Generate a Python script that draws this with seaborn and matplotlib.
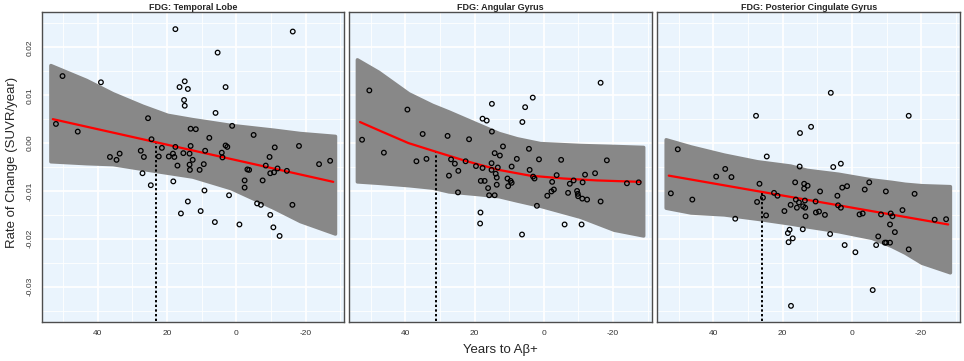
import numpy as np
import pandas as pd
import seaborn as sns
import matplotlib
matplotlib.use('Agg')
import matplotlib.pyplot as plt
from matplotlib.ticker import FixedLocator


# scatter points (years to Ab+, rate of change)
temporal_pts = [(52.1, 0.0040), (50.2, 0.0140), (45.8, 0.0024), (39.1, 0.0127), (36.5, -0.0029), (34.6, -0.0035),
                (33.7, -0.0022), (27.6, -0.0016), (27.1, -0.0063), (26.7, -0.0029), (25.5, 0.0052), (24.5, 0.0008),
                (22.4, -0.0028), (21.5, -0.0010), (19.5, -0.0028), (18.3, -0.0022), (17.9, -0.0029), (17.6, -0.0008),
                (17.6, 0.0238), (17.0, -0.0047), (16.4, 0.0117), (15.3, -0.0021), (15.1, 0.0090), (14.9, 0.0078),
                (14.9, 0.0129), (14.0, 0.0113), (13.5, -0.0022), (13.5, -0.0045), (13.4, -0.0056), (13.2, -0.0006),
                (13.2, 0.0030), (12.6, -0.0035), (11.7, 0.0029), (10.6, -0.0056), (9.4, -0.0044), (9.0, -0.0016),
                (7.8, 0.0011), (6.0, 0.0063), (5.4, 0.0189), (4.2, -0.0020), (4.0, -0.0030), (3.1, 0.0117),
                (3.1, -0.0005), (2.6, -0.0008), (1.2, 0.0036), (-3.2, -0.0055), (-3.7, -0.0056), (-5.0, 0.0017),
                (-8.5, -0.0047), (-9.6, -0.0029), (-9.8, -0.0063), (-10.9, -0.0061), (-11.1, -0.0009), (-11.9, -0.0053),
                (-14.6, -0.0058), (-16.3, 0.0233), (-18.1, -0.0006), (-23.9, -0.0044), (-27.1, -0.0037), (24.7, -0.0088),
                (18.2, -0.0080), (14.0, -0.0122), (16.0, -0.0147), (9.2, -0.0099), (10.3, -0.0142), (6.2, -0.0165),
                (2.1, -0.0109), (-0.9, -0.0170), (-2.4, -0.0093), (-2.4, -0.0078), (-6.0, -0.0126), (-7.1, -0.0129),
                (-7.6, -0.0078), (-9.8, -0.0150), (-10.7, -0.0176), (-12.5, -0.0194), (-16.2, -0.0129)]

angular_pts = [(50.4, 0.0110), (52.5, 0.0007), (46.2, -0.0020), (39.4, 0.0070), (35.0, 0.0019), (36.8, -0.0038),
               (33.9, -0.0033), (27.8, 0.0015), (26.8, -0.0034), (25.7, -0.0043), (27.4, -0.0068), (24.7, -0.0058),
               (24.8, -0.0103), (22.6, -0.0038), (21.6, 0.0008), (19.6, -0.0048), (18.2, -0.0079), (17.1, -0.0079),
               (18.3, -0.0145), (18.4, -0.0168), (17.7, 0.0051), (16.5, 0.0047), (15.0, 0.0082), (15.0, 0.0024),
               (14.2, -0.0021), (15.1, -0.0042), (17.7, -0.0052), (15.1, -0.0056), (16.1, -0.0094), (15.8, -0.0109),
               (14.2, -0.0109), (13.6, -0.0072), (13.6, -0.0087), (11.8, -0.0007), (12.7, -0.0026), (4.3, -0.0012),
               (7.8, -0.0033), (1.4, -0.0034), (-5.0, -0.0035), (-18.2, -0.0036), (3.2, 0.0095), (5.4, 0.0075),
               (6.2, 0.0044), (-16.4, 0.0126), (9.3, -0.0049), (4.1, -0.0056), (13.3, -0.0051), (13.9, -0.0064),
               (10.5, -0.0074), (9.6, -0.0079), (9.3, -0.0083), (10.3, -0.0090), (3.1, -0.0070), (2.7, -0.0074),
               (-3.7, -0.0067), (-2.4, -0.0081), (-7.5, -0.0085), (-8.6, -0.0078), (-11.2, -0.0082), (-11.9, -0.0066),
               (-14.8, -0.0063), (-24.0, -0.0084), (-27.4, -0.0082), (-2.9, -0.0097), (-2.2, -0.0101), (-1.0, -0.0110),
               (-7.0, -0.0104), (-9.6, -0.0100), (-9.8, -0.0106), (-9.9, -0.0111), (-11.1, -0.0116), (-12.5, -0.0118),
               (-16.4, -0.0122), (2.0, -0.0131), (-6.0, -0.0170), (-10.9, -0.0170), (6.3, -0.0191)]

cingulate_pts = [(27.7, 0.0057), (15.0, 0.0021), (50.3, -0.0013), (24.6, -0.0028), (15.1, -0.0049), (36.6, -0.0054),
                 (39.2, -0.0070), (34.8, -0.0071), (26.7, -0.0085), (16.4, -0.0082), (13.8, -0.0085), (13.8, -0.0095),
                 (52.3, -0.0105), (46.1, -0.0118), (22.5, -0.0104), (21.5, -0.0110), (25.7, -0.0114), (27.4, -0.0123),
                 (16.2, -0.0118), (15.3, -0.0124), (13.6, -0.0120), (17.7, -0.0129), (15.9, -0.0135), (14.1, -0.0132),
                 (13.5, -0.0135), (19.5, -0.0142), (24.8, -0.0151), (33.7, -0.0158), (13.4, -0.0153), (18.0, -0.0181),
                 (18.5, -0.0188), (17.1, -0.0199), (18.3, -0.0207), (14.2, -0.0180), (17.6, -0.0340), (6.1, 0.0105),
                 (11.8, 0.0034), (-16.4, 0.0057), (5.4, -0.0050), (3.2, -0.0043), (12.8, -0.0089), (9.2, -0.0101),
                 (2.8, -0.0093), (1.4, -0.0090), (-5.0, -0.0082), (-3.7, -0.0097), (-9.8, -0.0101), (-18.1, -0.0106),
                 (4.2, -0.0110), (10.5, -0.0122), (4.0, -0.0130), (3.2, -0.0135), (10.4, -0.0145), (9.5, -0.0143),
                 (7.8, -0.0150), (-2.2, -0.0149), (-3.1, -0.0147), (-8.4, -0.0149), (-11.2, -0.0147), (-11.7, -0.0153),
                 (-14.6, -0.0140), (-23.9, -0.0160), (-27.2, -0.0159), (-11.0, -0.0170), (-12.4, -0.0186), (-7.6, -0.0195),
                 (6.3, -0.0190), (2.1, -0.0213), (-1.0, -0.0228), (-7.0, -0.0213), (-9.5, -0.0208), (-9.9, -0.0208),
                 (-11.0, -0.0208), (-16.4, -0.0222), (-6.0, -0.0307)]

# prediction bands
temporal_band_x = [53.7, 43.4, 35.7, 27.1, 19.9, 12.7, 1.7, -10.7, -18.4, -28.5]
temporal_band_lo = [-0.0038, -0.0042, -0.0044, -0.0054, -0.0062, -0.0070, -0.0094, -0.0135, -0.0163, -0.0189]
temporal_band_hi = [0.0163, 0.0132, 0.0104, 0.0078, 0.0059, 0.0050, 0.0038, 0.0028, 0.0021, 0.0015]

angular_band_x = [54.0, 47.8, 39.1, 32.3, 27.5, 19.8, 13.0, 7.8, 1.1, -10.5, -20.2, -28.7]
angular_band_lo = [-0.0080, -0.0083, -0.0088, -0.0093, -0.0101, -0.0106, -0.0111, -0.0120, -0.0131, -0.0154, -0.0181, -0.0193]
angular_band_hi = [0.0175, 0.0149, 0.0104, 0.0080, 0.0066, 0.0042, 0.0021, 0.0010, 0.0000, -0.0004, -0.0006, -0.0008]

cingulate_band_x = [53.8, 46.6, 37.0, 27.4, 17.8, 13.0, 4.0, -5.7, -11.4, -15.3, -20.1, -28.3]
cingulate_band_lo = [-0.0135, -0.0145, -0.0149, -0.0158, -0.0168, -0.0174, -0.0184, -0.0198, -0.0215, -0.0229, -0.0250, -0.0270]
cingulate_band_hi = [0.0008, -0.0007, -0.0024, -0.0038, -0.0047, -0.0056, -0.0064, -0.0076, -0.0081, -0.0085, -0.0088, -0.0090]

# fitted curves
temporal_fit_x = [53.0, -28.0]
temporal_fit_y = [0.0050, -0.0081]
angular_fit_x = [53.1, 46.8, 39.1, 31.2, 22.7, 13.0, 4.0, -5.7, -15.3, -27.9]
angular_fit_y = [0.0044, 0.0024, 0.0000, -0.0018, -0.0037, -0.0056, -0.0068, -0.0074, -0.0078, -0.0081]
cingulate_fit_x = [52.9, -27.8]
cingulate_fit_y = [-0.0068, -0.0170]

# threshold crossing (dotted line)
onsets = [23.1, 31.1, 26.0]

titles = ['FDG: Temporal Lobe', 'FDG: Angular Gyrus', 'FDG: Posterior Cingulate Gyrus']
x_ticks = [40, 20, 0, -20]
y_ticks = [-0.03, -0.02, -0.01, 0.00, 0.01, 0.02]

panels = [
    (temporal_pts, temporal_band_x, temporal_band_lo, temporal_band_hi, temporal_fit_x, temporal_fit_y),
    (angular_pts, angular_band_x, angular_band_lo, angular_band_hi, angular_fit_x, angular_fit_y),
    (cingulate_pts, cingulate_band_x, cingulate_band_lo, cingulate_band_hi, cingulate_fit_x, cingulate_fit_y),
]

sns.set_theme(style='white')
plt.rcParams['font.family'] = ['Liberation Sans', 'DejaVu Sans']

fig = plt.figure(figsize=(9.64, 3.61), dpi=100)
lefts = [0.0433, 0.3623, 0.6819]
band_col = '#888888'

for i, (pts, bx, blo, bhi, fx, fy) in enumerate(panels):
    ax = fig.add_axes([lefts[i], 0.109, 0.3139, 0.858])
    ax.set_facecolor('#eaf4fd')

    ax.fill_between(bx, blo, bhi, color=band_col, edgecolor=band_col, linewidth=2.5,
                    joinstyle='round', zorder=2)

    fit = pd.DataFrame({'x': fx, 'y': fy})
    sns.lineplot(data=fit, x='x', y='y', color='red', linewidth=1.6, ax=ax, zorder=4,
                 sort=False, estimator=None)

    y_on = np.interp(onsets[i], fx[::-1], fy[::-1])
    ax.plot([onsets[i], onsets[i]], [-0.04, y_on], color='black', linestyle=(0, (1.2, 1.2)),
            linewidth=1.4, zorder=3)

    df = pd.DataFrame(pts, columns=['years', 'rate'])
    sns.scatterplot(data=df, x='years', y='rate', ax=ax, s=11, facecolor='none',
                    edgecolor='black', linewidth=0.9, zorder=5)

    ax.set_xlim(56.2, -31.2)
    ax.set_ylim(-0.0373, 0.0274)
    ax.xaxis.set_major_locator(FixedLocator(x_ticks))
    ax.xaxis.set_minor_locator(FixedLocator([50, 30, 10, -10, -30]))
    ax.yaxis.set_major_locator(FixedLocator(y_ticks))
    ax.yaxis.set_minor_locator(FixedLocator([-0.035, -0.025, -0.015, -0.005, 0.005, 0.015, 0.025]))
    ax.grid(which='major', color='white', linewidth=1.3, zorder=0)
    ax.grid(which='minor', color='white', linewidth=0.6, zorder=0)
    ax.set_axisbelow(True)

    ax.set_xticklabels([str(t) for t in x_ticks], fontsize=6)
    if i == 0:
        ax.set_yticklabels(['%.2f' % t for t in y_ticks], fontsize=6, rotation=90, va='center')
    else:
        ax.set_yticklabels([])
    ax.tick_params(axis='both', which='major', length=2, width=0.6, color='#555555', pad=4,
                   labelcolor='#333333')
    ax.tick_params(axis='both', which='minor', length=0)
    ax.set_xlabel('')
    ax.set_ylabel('')
    for s in ax.spines.values():
        s.set_color('#4d4d4d')
        s.set_linewidth(1.0)
    ax.set_title(titles[i], fontsize=6.5, fontweight='bold', pad=1.5)

fig.text(0.012, 0.55, 'Rate of Change (SUVR/year)', rotation=90, ha='center', va='center', fontsize=9.5)
fig.text(0.519, 0.03, 'Years to A\u03b2+', ha='center', va='center', fontsize=9.5)

fig.savefig('out.png', dpi=100)
